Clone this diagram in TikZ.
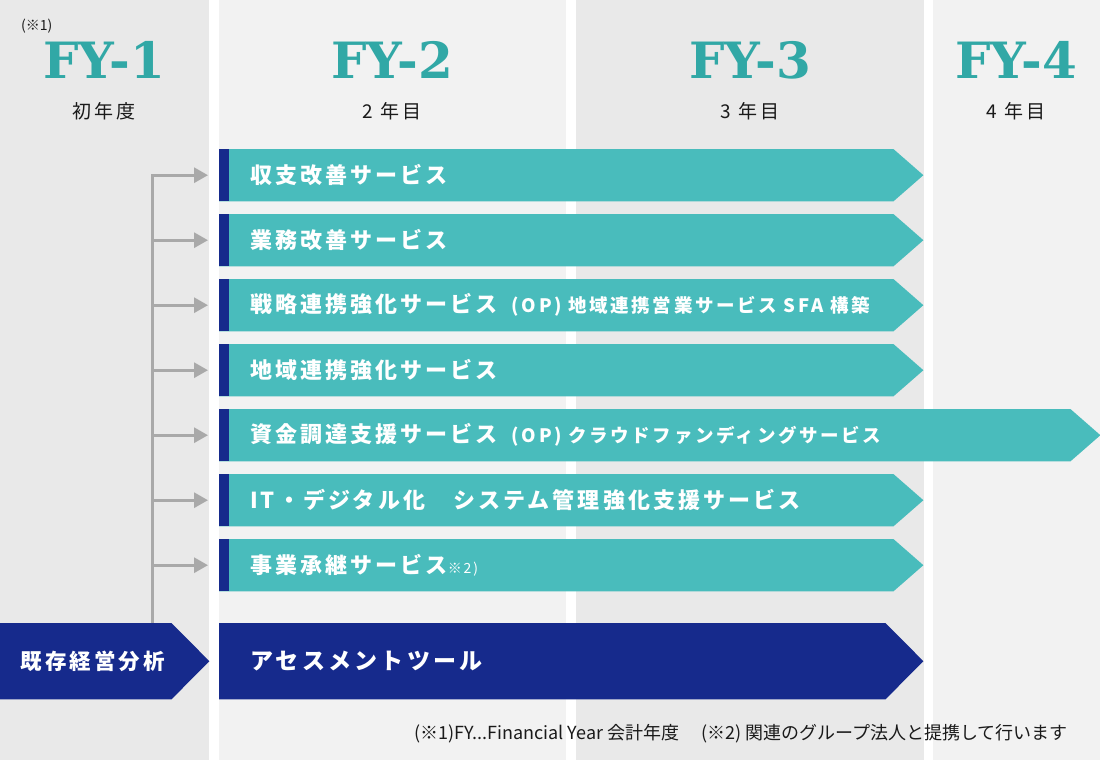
\documentclass[tikz,border=0pt]{standalone}
\usepackage{fontspec}
\setmainfont{Noto Sans CJK JP}
\newfontfamily\fyfont{DejaVu Serif}
\newfontfamily\jpwide[LetterSpace=14]{Noto Sans CJK JP}
\usetikzlibrary{positioning, calc, arrows.meta}

\definecolor{barteal}{HTML}{49BCBC}
\definecolor{navy}{HTML}{162A8C}
\definecolor{fyteal}{HTML}{31A8A6}
\definecolor{colA}{HTML}{E9E9E9}
\definecolor{colB}{HTML}{F2F2F2}
\definecolor{trunkgray}{HTML}{A9A9A9}
\definecolor{ink}{HTML}{1A1A1A}

\newcommand{\subnote}[1]{\hspace{14pt}{\fontsize{18.5}{18.5}\selectfont #1}}
\newcommand{\footmark}[1]{{\mdseries\fontsize{14}{14}\selectfont #1}}

\tikzset{
  fyhead/.style={text=fyteal, anchor=base, inner sep=0pt,
    font=\fyfont\bfseries\fontsize{50}{50}\selectfont},
  yearlbl/.style={text=ink, anchor=base, inner sep=0pt,
    font=\jpwide\fontsize{19}{19}\selectfont},
  barbody/.style={minimum height=52, inner sep=0pt, anchor=north west},
  navybody/.style={minimum height=76, inner sep=0pt, anchor=north west},
  bartext/.style={text=white, inner sep=0pt,
    font=\jpwide\bfseries\fontsize{22}{22}\selectfont},
  bigtext/.style={text=white, inner sep=0pt,
    font=\jpwide\bfseries\fontsize{23}{23}\selectfont},
  conn/.style={draw=trunkgray, line width=3pt,
    -{Triangle[length=14pt,width=15pt]}, shorten >=11pt},
  footnote/.style={text=ink, inner sep=0pt, font=\fontsize{18}{18}\selectfont},
}

\begin{document}
\begin{tikzpicture}[x=1pt, y=-1pt]
  \useasboundingbox (0,0) rectangle (1100,760);

  % year columns
  \fill[white] (0,0) rectangle (1100,760);
  \fill[colA] (0,0) rectangle (209,760);
  \fill[colB] (219,0) rectangle (566,760);
  \fill[colA] (576,0) rectangle (924,760);
  \fill[colB] (933,0) rectangle (1100,760);

  % headings
  \node[fyhead] (fy1) at (104,78) {FY-1};
  \node[fyhead] (fy2) at (392,78) {FY-2};
  \node[fyhead] (fy3) at (750,78) {FY-3};
  \node[fyhead] (fy4) at (1016,78) {FY-4};
  \node[footnote, anchor=base west, font=\fontsize{14}{14}\selectfont] (fymark) at (21,31) {(※1)};

  \node[yearlbl] (yr1) at (104,118) {初年度};
  \node[yearlbl] (yr2) at (392,118) {2 年目};
  \node[yearlbl] (yr3) at (750,118) {3 年目};
  \node[yearlbl] (yr4) at (1016,118) {4 年目};

  % service bars
  \foreach \i/\tip/\txt in {
      1/923/{収支改善サービス},
      2/923/{業務改善サービス},
      3/923/{戦略連携強化サービス\subnote{(OP) 地域連携営業サービス SFA 構築}},
      4/923/{地域連携強化サービス},
      5/1100/{資金調達支援サービス\subnote{(OP) クラウドファンディングサービス}},
      6/923/{IT・デジタル化　システム管理強化支援サービス},
      7/923/{事業承継サービス\footmark{※2)}}} {
    \pgfmathsetmacro\bartop{149+65*(\i-1)}
    \pgfmathsetmacro\barlen{\tip-30-219}
    \node[barbody, minimum width=\barlen] (bar\i) at (219,\bartop) {};
    \fill[barteal] (bar\i.north west) -- (bar\i.north east) -- ($(bar\i.east)+(30,0)$)
      -- (bar\i.south east) -- (bar\i.south west) -- cycle;
    \fill[navy] (bar\i.north west) rectangle ++(10,52);
    \node[bartext, right=31pt of bar\i.west] (lbl\i) {\txt};
  }

  % assessment row
  \node[navybody, minimum width=171] (base) at (0,623) {};
  \fill[navy] (base.north west) -- (base.north east) -- ($(base.east)+(38,0)$)
    -- (base.south east) -- (base.south west) -- cycle;
  \node[bigtext, font=\jpwide\bfseries\fontsize{21.5}{21.5}\selectfont] (baselbl) at (93,661) {既存経営分析};

  \node[navybody, minimum width=666] (tool) at (219,623) {};
  \fill[navy] (tool.north west) -- (tool.north east) -- ($(tool.east)+(38,0)$)
    -- (tool.south east) -- (tool.south west) -- cycle;
  \node[bigtext, right=31pt of tool.west] (toollbl) {アセスメントツール};

  % connectors
  \coordinate (trunk) at ($(base.north west)+(152,0)$);
  \draw[conn] (trunk) -- (trunk |- bar1.west) -- (bar1.west);
  \foreach \i in {2,...,7}
    \draw[conn] (trunk |- bar\i.west) -- (bar\i.west);

  \node[footnote, anchor=east] (notes) at (1068,734)
    {(※1)FY...Financial Year 会計年度\hspace{22pt}(※2) 関連のグループ法人と提携して行います};
\end{tikzpicture}
\end{document}
